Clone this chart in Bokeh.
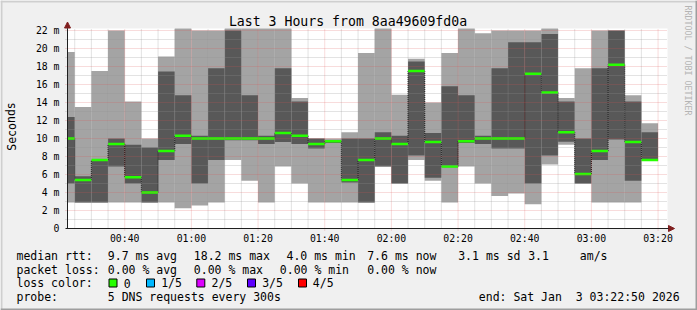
import numpy as np
import pandas as pd
from bokeh.plotting import figure
from bokeh.models import (Range1d, FixedTicker, DatetimeTickFormatter, Label,
                          BoxAnnotation, ColumnDataSource, Arrow, NormalHead,
                          LinearAxis, DatetimeAxis)
from bokeh.embed import file_html
from bokeh.resources import INLINE

# ---------------- data ----------------
DAY = "2026-01-03"
bar_end = ["00:25", "00:30", "00:35", "00:40", "00:45", "00:50", "00:55", "01:00",
           "01:05", "01:10", "01:15", "01:20", "01:25", "01:30", "01:35", "01:40",
           "01:45", "01:50", "01:55", "02:00", "02:05", "02:10", "02:15", "02:20",
           "02:25", "02:30", "02:35", "02:40", "02:45", "02:50", "02:55", "03:00",
           "03:05", "03:10", "03:15", "03:20"]
# sorted ping values (ms): 1st, 2nd, median, 4th, 5th
rtt_min = [2.9, 2.9, 2.9, 2.9, 2.9, 2.9, 2.9, 2.25, 2.55, 2.9, 7.6, 5.3, 2.9, 6.9, 5.0, 2.9,
           2.9, 2.9, 2.9, 6.9, 5.0, 7.6, 5.3, 2.9, 6.9, 5.0, 3.6, 3.9, 2.7, 7.1, 9.3, 5.0,
           2.9, 2.9, 2.9, 7.5]
rtt_q1 = [5.0, 2.9, 2.9, 6.9, 5.0, 2.9, 7.6, 9.4, 5.0, 7.6, 9.8, 9.8, 9.4, 9.6, 9.4, 8.9,
          9.5, 5.1, 2.9, 6.9, 5.0, 8.1, 5.65, 6.8, 9.5, 9.4, 8.9, 8.9, 5.0, 8.1, 9.65, 5.0,
          7.6, 9.9, 5.3, 7.5]
rtt_median = [10.0, 5.4, 7.6, 9.4, 5.7, 4.0, 8.6, 10.3, 10.0, 10.0, 10.0, 10.0, 10.0, 10.6,
              10.3, 9.4, 9.7, 5.4, 7.6, 10.0, 9.4, 17.5, 9.6, 6.9, 9.7, 10.0, 10.0, 10.0,
              17.2, 15.1, 10.7, 6.05, 8.6, 18.2, 9.6, 7.6]
rtt_q3 = [12.4, 5.8, 7.6, 10.0, 9.3, 9.0, 17.45, 14.8, 10.3, 17.8, 22.0, 14.8, 10.3, 17.8,
          14.1, 10.0, 9.8, 10.0, 10.0, 10.7, 10.3, 18.55, 10.6, 15.8, 14.8, 10.3, 17.8, 20.7,
          20.7, 21.6, 14.1, 10.0, 17.8, 22.0, 14.1, 10.7]
rtt_max = [19.6, 13.5, 17.5, 22.0, 14.1, 10.0, 19.1, 23.0, 22.0, 22.0, 23.0, 23.0, 23.0, 23.0,
           14.5, 10.0, 10.0, 10.7, 19.5, 23.0, 14.85, 18.85, 14.0, 19.5, 23.0, 21.7, 22.0,
           22.0, 22.0, 23.0, 14.5, 17.8, 22.0, 22.0, 14.8, 11.7]
y_ticks = [0, 2, 4, 6, 8, 10, 12, 14, 16, 18, 20, 22]
x_tick_labels = ["00:40", "01:00", "01:20", "01:40", "02:00", "02:20", "02:40", "03:00", "03:20"]

loss_labels = ["0", "1/5", "2/5", "3/5", "4/5"]
loss_colors = ["#26ff00", "#00b8ff", "#dd00ff", "#5e00ff", "#ff0000"]

stats_rtt = ["9.7 ms avg", "18.2 ms max", "4.0 ms min", "7.6 ms now", "3.1 ms sd", "3.1", "am/s"]
stats_loss = ["0.00 % avg", "0.00 % max", "0.00 % min", "0.00 % now"]
end_text = "end: Sat Jan\u00a0\u00a03 03:22:50 2026"

# ---------------- geometry ----------------
W, H = 697, 310
FL, FR, FT, FB = 67, 667, 28, 228          # graph area edges in canvas pixels
YMAX = 22 * (FB - FT) / 198.0              # 22 m sits 198 px above 0
T0 = pd.Timestamp(DAY + " 00:22:50")
T1 = pd.Timestamp(DAY + " 03:22:50")
t0, t1 = T0.value / 1e6, T1.value / 1e6
mspp = (t1 - t0) / (FR - FL)               # ms per pixel
vpp = YMAX / (FB - FT)                     # value per pixel

MONO = "DejaVu Sans Mono"
LIGHT = "#a4a4a4"
DARK = "#585858"
BACK = "#f0f0f0"
MGRID = "#de4f4f"
GRID = "#8f8f8f"

# whole canvas is the frame; graph area occupies [FL,FR]x[FT,FB]
p = figure(width=W, height=H, x_axis_type=None, y_axis_type=None,
           x_range=Range1d(t0 - FL * mspp, t1 + (W - FR) * mspp),
           y_range=Range1d(-(H - FB) * vpp, YMAX + FT * vpp),
           output_backend="svg", toolbar_location=None, title=None,
           min_border=0, background_fill_color=BACK, border_fill_color=BACK,
           outline_line_color=None)
p.xgrid.visible = False
p.ygrid.visible = False

# canvas area (white)
p.quad(left=[t0], right=[t1], bottom=[0], top=[YMAX], fill_color="white", line_color=None)

ends = pd.to_datetime([DAY + " " + s for s in bar_end])
starts = ends - pd.Timedelta(minutes=5)
left = np.maximum(starts.values.astype("datetime64[ms]").astype(float), t0)
right = ends.values.astype("datetime64[ms]").astype(float)
src = ColumnDataSource(dict(l=left, r=right,
                            mn=rtt_min, q1=rtt_q1, md=rtt_median,
                            q3=np.minimum(rtt_q3, YMAX), mx=np.minimum(rtt_max, YMAX)))

p.quad(left="l", right="r", bottom="mn", top="mx", source=src,
       fill_color=LIGHT, line_color=None)
p.quad(left="l", right="r", bottom="q1", top="q3", source=src,
       fill_color=DARK, line_color=None)

# median step line with dotted connectors
conn = ColumnDataSource(dict(x=right[:-1], y0=rtt_median[:-1], y1=rtt_median[1:]))
p.segment(x0="x", y0="y0", x1="x", y1="y1", source=conn, line_color="black",
          line_width=1, line_dash="1 1")
p.segment(x0="l", y0="md", x1="r", y1="md", source=src, line_color=loss_colors[0],
          line_width=2.5)

# ---------------- ticks / grid ----------------
xt_major = [pd.Timestamp(DAY + " " + s).value / 1e6 for s in x_tick_labels]
xt_minor = []
t = pd.Timestamp(DAY + " 00:25")
while t <= T1:
    ms = t.value / 1e6
    if ms not in xt_major:
        xt_minor.append(ms)
    t += pd.Timedelta(minutes=5)
yt_minor = [v + 1 for v in y_ticks[:-1]]

# grid drawn above the smoke, like rrdtool
p.segment(x0=xt_minor, x1=xt_minor, y0=0, y1=YMAX, line_color=GRID, line_alpha=0.5,
          line_dash="1 1", line_width=1)
p.segment(x0=t0 - 2 * mspp, x1=t1, y0=yt_minor, y1=yt_minor, line_color=GRID,
          line_alpha=0.5, line_dash="1 1", line_width=1)
p.segment(x0=xt_major, x1=xt_major, y0=-2 * vpp, y1=YMAX, line_color=MGRID,
          line_alpha=0.4, line_dash="1 1", line_width=1)
p.segment(x0=t0 - 2 * mspp, x1=t1, y0=y_ticks[1:], y1=y_ticks[1:], line_color=MGRID,
          line_alpha=0.4, line_dash="1 1", line_width=1)

# axes, drawn inside the (full-canvas) frame at the graph edges
xaxis = DatetimeAxis(fixed_location=0, bounds=(t0 - 2 * mspp, t1 + 2 * mspp),
                     ticker=FixedTicker(ticks=xt_major, minor_ticks=[]),
                     formatter=DatetimeTickFormatter(minutes="%H:%M", hourmin="%H:%M",
                                                     hours="%H:%M", minsec="%H:%M"))
yaxis = LinearAxis(fixed_location=t0, bounds=(0, YMAX),
                   ticker=FixedTicker(ticks=y_ticks, minor_ticks=[]))
yaxis.major_label_overrides = {v: ("0" if v == 0 else f"{v} m") for v in y_ticks}
for ax in (xaxis, yaxis):
    ax.axis_line_color = "#1f1f1f"
    ax.major_label_text_font = MONO
    ax.major_label_text_font_size = "9.8px"
    ax.major_label_text_color = "black"
    ax.major_tick_line_color = None
    ax.minor_tick_line_color = None
    ax.major_tick_out = 2
    ax.major_tick_in = 0
yaxis.major_label_standoff = 6
xaxis.major_label_standoff = 2
p.add_layout(xaxis, "below")
p.add_layout(yaxis, "left")

# axis arrows
head = dict(size=6, fill_color="#801f1f", line_color="#801f1f")
p.add_layout(Arrow(x_start=t0, y_start=YMAX, x_end=t0, y_end=YMAX + 6.5 * vpp,
                   line_color="#1f1f1f", line_width=1, end=NormalHead(**head)))
p.add_layout(Arrow(x_start=t1, y_start=0, x_end=t1 + 7 * mspp, y_end=0,
                   line_color="#1f1f1f", line_width=1, end=NormalHead(**head)))

DY = -3.0   # baseline correction


def label(txt, x, y, size="11.5px", align="left", angle=0.0, color="black"):
    p.add_layout(Label(x=x, y=y + DY, x_units="canvas", y_units="canvas", text=txt,
                       text_font=MONO, text_font_size=size, text_align=align,
                       text_baseline="alphabetic", angle=angle, text_color=color))


def vlabel(txt, x, y, size, angle, color):
    p.add_layout(Label(x=x, y=y, x_units="canvas", y_units="canvas", text=txt,
                       text_font=MONO, text_font_size=size, text_align="center",
                       text_baseline="alphabetic", angle=angle, text_color=color))


label("Last 3 Hours from 8aa49609fd0a", 347.5, 24, size="13.2px", align="center")
vlabel("Seconds", 11, 126, "11.5px", 1.5708, "black")
vlabel("RRDTOOL / TOBI OETIKER", 687.5, 60, "8.3px", -1.5708, "#b4b4b4")

# legend rows
row1, row2, row3, row4 = 258.3, 272.0, 285.9, 299.4
label("median rtt:", 16, row1)
for txt, x in zip(stats_rtt, [107.3, 193.3, 286.0, 366.7, 457.7, 527.7, 579.3]):
    label(txt, x, row1)
label("packet loss:", 16, row2)
for txt, x in zip(stats_loss, [107.3, 193.3, 279.3, 366.7]):
    label(txt, x, row2)
label("loss color:", 16, row3)
box_x = [108.5, 146.0, 196.3, 247.0, 298.0]
lab_x = [123.3, 160.7, 211.0, 261.7, 312.3]
for txt, c, bx, lx in zip(loss_labels, loss_colors, box_x, lab_x):
    p.add_layout(BoxAnnotation(left=bx, right=bx + 8, top=278.5, bottom=286.5,
                               left_units="canvas", right_units="canvas",
                               top_units="canvas", bottom_units="canvas",
                               fill_color=c, fill_alpha=1.0,
                               line_color="black", line_width=1, line_alpha=1.0))
    label(txt, lx, row3)
label("probe:", 16, row4)
label("5 DNS requests every 300s", 107.3, row4)
label(end_text, 478.3, row4)

# 3D frame around the canvas
for (l, r, tp, bt, c) in [(0, W, 0, 2, "#cfcfcf"), (0, 2, 0, H, "#cfcfcf"),
                          (0, W, H - 2, H, "#9e9e9e"), (W - 2, W, 0, H, "#9e9e9e")]:
    p.add_layout(BoxAnnotation(left=l, right=r, top=tp, bottom=bt,
                               left_units="canvas", right_units="canvas",
                               top_units="canvas", bottom_units="canvas",
                               fill_color=c, fill_alpha=1.0, line_color=None))

open("out.html", "w").write(file_html(p, INLINE))
